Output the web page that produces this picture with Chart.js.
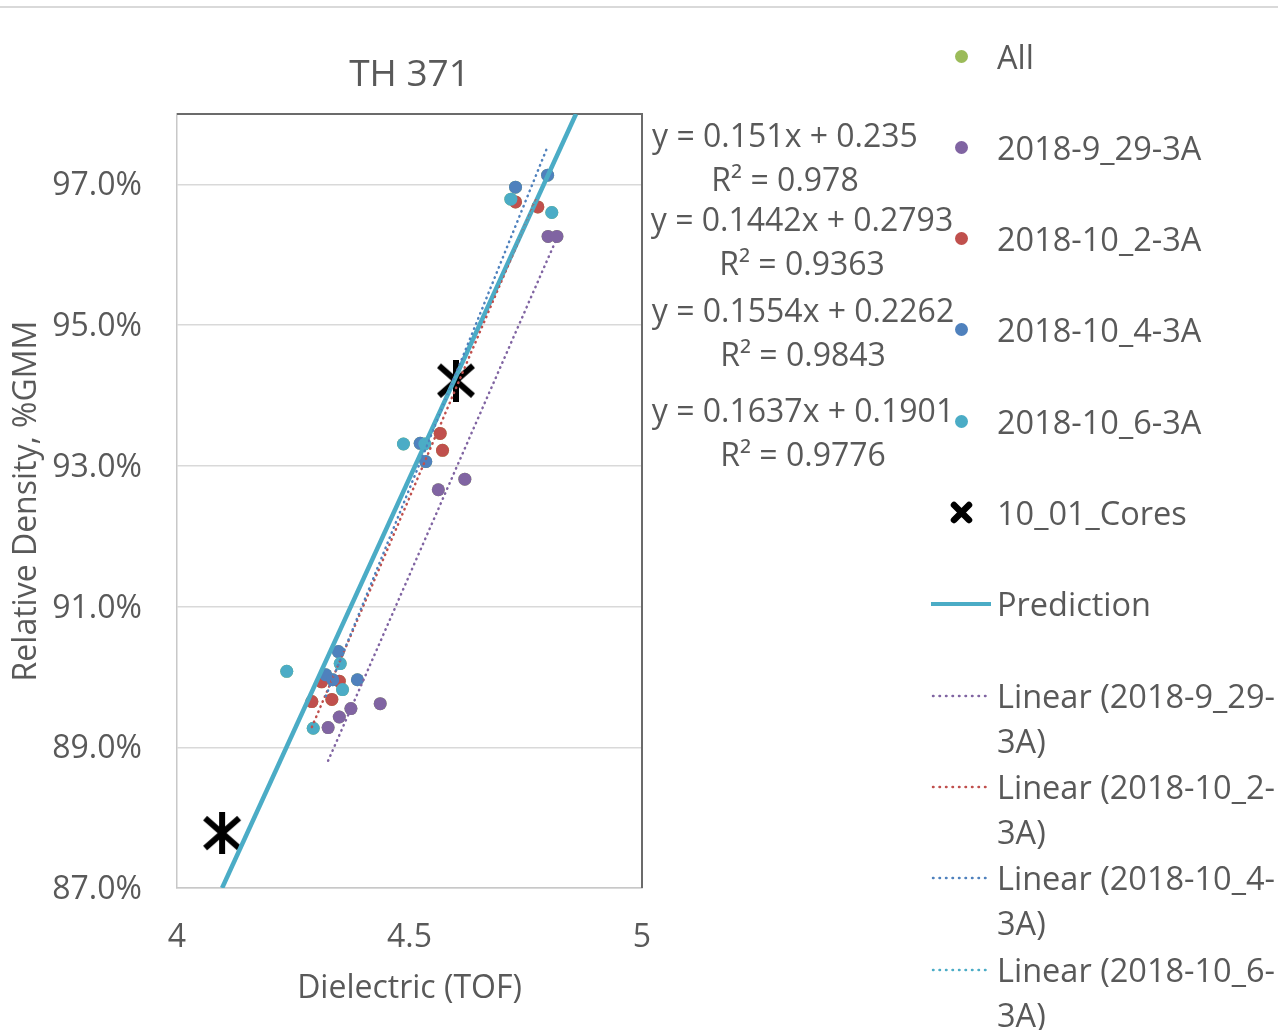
<!DOCTYPE html>
<html><head><meta charset="utf-8">
<script src="https://cdn.jsdelivr.net/npm/chart.js@4.4.1/dist/chart.umd.min.js"></script>
<style>
html,body{margin:0;padding:0;background:#fff;}
#wrap{position:relative;width:1278px;height:1030px;overflow:hidden;font-family:"Open Sans",sans-serif;color:#595959;}
#c{position:absolute;left:0;top:0;}
#sep{position:absolute;left:0;top:6px;width:1278px;height:2px;background:#d9d9d9;}
#title{position:absolute;left:259.5px;width:300px;top:49px;text-align:center;font-size:37px;line-height:46px;white-space:nowrap;}
.eq{position:absolute;width:360px;text-align:center;font-size:32px;line-height:44px;white-space:nowrap;}
.li{position:absolute;left:925px;width:353px;height:91px;}
.lt{position:absolute;left:72px;top:0;font-size:32.5px;line-height:45px;white-space:nowrap;}
.dot{position:absolute;left:30px;top:16px;width:13px;height:13px;border-radius:50%;}
.ln{position:absolute;left:6px;width:60px;height:0;}
</style></head>
<body><div id="wrap">
<div id="sep"></div>
<canvas id="c" width="1278" height="1030"></canvas>
<div id="title">TH 371</div>
</div>
<script>
// ---- data ----
const xTicks = [4, 4.5, 5];
const yTicks = [87, 89, 91, 93, 95, 97];
const seriesNames = ['2018-9_29-3A', '2018-10_2-3A', '2018-10_4-3A', '2018-10_6-3A'];
const x929  = [4.325, 4.349, 4.374, 4.437, 4.562, 4.619, 4.798, 4.817];
const y929  = [89.28, 89.43, 89.55, 89.62, 92.66, 92.81, 96.26, 96.26];
const x1002 = [4.290, 4.311, 4.333, 4.349, 4.566, 4.571, 4.728, 4.776];
const y1002 = [89.65, 89.93, 89.68, 89.94, 93.46, 93.22, 96.75, 96.68];
const x1004 = [4.320, 4.335, 4.347, 4.388, 4.523, 4.535, 4.728, 4.797];
const y1004 = [90.03, 89.96, 90.36, 89.96, 93.32, 93.06, 96.96, 97.13];
const x1006 = [4.236, 4.293, 4.351, 4.356, 4.487, 4.533, 4.718, 4.806];
const y1006 = [90.08, 89.27, 90.19, 89.82, 93.31, 93.31, 96.79, 96.60];
const coresX = [4.097, 4.600];
const coresY = [87.78, 94.21];
const predictionX = [4.097, 4.858];
const predictionY = [87.0, 98.0];
// trendline labels, in the order they are shown
const trendSlopes = [0.151, 0.1442, 0.1554, 0.1637];
const trendIntercepts = [0.235, 0.2793, 0.2262, 0.1901];
const trendR2 = ['0.978', '0.9363', '0.9843', '0.9776'];
// which trendline label belongs to each series (9_29, 10_2, 10_4, 10_6)
const trendOfSeries = [0, 2, 3, 1];

// ---- styles ----
const colors = ['#8064A2', '#C0504D', '#4F81BD', '#4BACC6'];
const allColor = '#9BBB59';
const xs = [x929, x1002, x1004, x1006];
const ys = [y929, y1002, y1004, y1006];
const pts = (a, b) => a.map((v, i) => ({x: v, y: b[i]}));

function starMarker(size, lw) {
  const c = document.createElement('canvas');
  c.width = size; c.height = size;
  const g = c.getContext('2d');
  g.strokeStyle = '#000'; g.lineWidth = lw; g.lineCap = 'butt';
  const m = lw / 2 + 1, e = size - m, h = size / 2;
  g.beginPath();
  g.moveTo(m, m + 2); g.lineTo(e, e - 2);
  g.moveTo(e, m + 2); g.lineTo(m, e - 2);
  g.moveTo(h, 0); g.lineTo(h, size);
  g.stroke();
  return c;
}
const star = starMarker(42, 6);

const datasets = [];
let allPts = [];
xs.forEach((a, i) => { allPts = allPts.concat(pts(a, ys[i])); });
datasets.push({label: 'All', data: allPts, backgroundColor: allColor, borderColor: allColor, pointRadius: 6.5, borderWidth: 0, order: 100, legendType: 'dot'});
seriesNames.forEach((n, i) => {
  datasets.push({label: n, data: pts(xs[i], ys[i]), backgroundColor: colors[i], borderColor: colors[i], pointRadius: 6.5, borderWidth: 0, order: 90 - i * 5, legendType: 'dot'});
});
datasets.push({label: '10_01_Cores', data: pts(coresX, coresY), pointStyle: star, pointRadius: 21, order: 50, legendType: 'star'});
datasets.push({label: 'Prediction', data: pts(predictionX, predictionY), showLine: true, borderColor: '#4BACC6', borderWidth: 4.5, pointRadius: 0, order: 40, legendType: 'line'});
seriesNames.forEach((n, i) => {
  const t = trendOfSeries[i];
  const lo = Math.min(...xs[i]), hi = Math.max(...xs[i]);
  const f = x => 100 * (trendSlopes[t] * x + trendIntercepts[t]);
  datasets.push({label: 'Linear (' + n + ')', data: [{x: lo, y: f(lo)}, {x: hi, y: f(hi)}], showLine: true,
    borderColor: colors[i], borderWidth: 2.5, borderDash: [0.5, 5], borderCapStyle: 'round', pointRadius: 0, order: 30 - i, legendType: 'dotted'});
});

const frame = {
  id: 'frame',
  beforeDatasetsDraw(chart) {
    const {ctx, chartArea: a} = chart;
    ctx.save();
    ctx.strokeStyle = '#6b6b6b'; ctx.lineWidth = 2;
    ctx.beginPath();
    ctx.moveTo(a.left, a.top); ctx.lineTo(a.right, a.top); ctx.lineTo(a.right, a.bottom);
    ctx.stroke();
    ctx.restore();
  }
};

const font = {family: '"Open Sans", sans-serif', size: 32};
const chart = new Chart(document.getElementById('c'), {
  type: 'scatter',
  data: {datasets},
  plugins: [frame],
  options: {
    responsive: false, animation: false, devicePixelRatio: 1,
    layout: {padding: {top: 114, left: 0, right: 636, bottom: 0}},
    plugins: {legend: {display: false}, tooltip: {enabled: false}, title: {display: false}},
    scales: {
      x: {
        type: 'linear', min: 4, max: 5,
        afterFit: s => { s.height = 142; },
        afterBuildTicks: s => { s.ticks = xTicks.map(v => ({value: v})); },
        ticks: {color: '#595959', font, padding: 31, callback: v => String(v)},
        grid: {display: false, drawTicks: false},
        border: {display: true, color: '#c8c8c8', width: 1.5},
        title: {display: true, text: 'Dielectric (TOF)', color: '#595959', font, padding: {top: 0, bottom: 22}}
      },
      y: {
        type: 'linear', min: 87, max: 98,
        afterFit: s => { s.width = 177; },
        afterBuildTicks: s => { s.ticks = yTicks.map(v => ({value: v})); },
        ticks: {color: '#595959', font, padding: 35, labelOffset: 2, callback: v => v.toFixed(1) + '%'},
        grid: {color: '#d9d9d9', lineWidth: 1.5, drawTicks: false},
        border: {display: true, color: '#c8c8c8', width: 1.5},
        title: {display: true, text: 'Relative Density, %GMM', color: '#595959', font, padding: {top: 8, bottom: 0}}
      }
    }
  }
});

// ---- trendline equation labels ----
const wrap = document.getElementById('wrap');
const eqCenters = [785, 802, 803, 803];
const eqTops = [135, 219, 310, 410];
trendSlopes.forEach((m, i) => {
  const d = document.createElement('div');
  d.className = 'eq';
  d.style.left = (eqCenters[i] - 180) + 'px';
  d.style.top = (eqTops[i] - 22) + 'px';
  d.innerHTML = 'y = ' + m + 'x + ' + trendIntercepts[i] + '<br>R² = ' + trendR2[i];
  wrap.appendChild(d);
});

// ---- legend ----
chart.data.datasets.forEach((ds, k) => {
  const it = document.createElement('div');
  it.className = 'li';
  const cy = 56 + k * 91.3;
  it.style.top = (cy - 22.5) + 'px';
  let mk = '';
  if (ds.legendType === 'dot') mk = '<div class="dot" style="background:' + ds.backgroundColor + '"></div>';
  else if (ds.legendType === 'star') mk = '<svg style="position:absolute;left:25px;top:11px" width="23" height="23"><path d="M4 4 L19 19 M19 4 L4 19" stroke="#000" stroke-width="6.5" stroke-linecap="round"/></svg>';
  else if (ds.legendType === 'line') mk = '<div class="ln" style="top:21px;border-top:4px solid ' + ds.borderColor + '"></div>';
  else mk = '<svg style="position:absolute;left:6px;top:21px" width="60" height="4"><line x1="2" y1="2" x2="58" y2="2" stroke="' + ds.borderColor + '" stroke-width="2.5" stroke-dasharray="0.5 6" stroke-linecap="round"/></svg>';
  let txt = ds.label;
  if (ds.legendType === 'dotted') {
    const j = txt.lastIndexOf('-');
    txt = txt.slice(0, j + 1) + '<br>' + txt.slice(j + 1);
  }
  it.innerHTML = mk + '<div class="lt">' + txt + '</div>';
  wrap.appendChild(it);
});
</script>
</body></html>
